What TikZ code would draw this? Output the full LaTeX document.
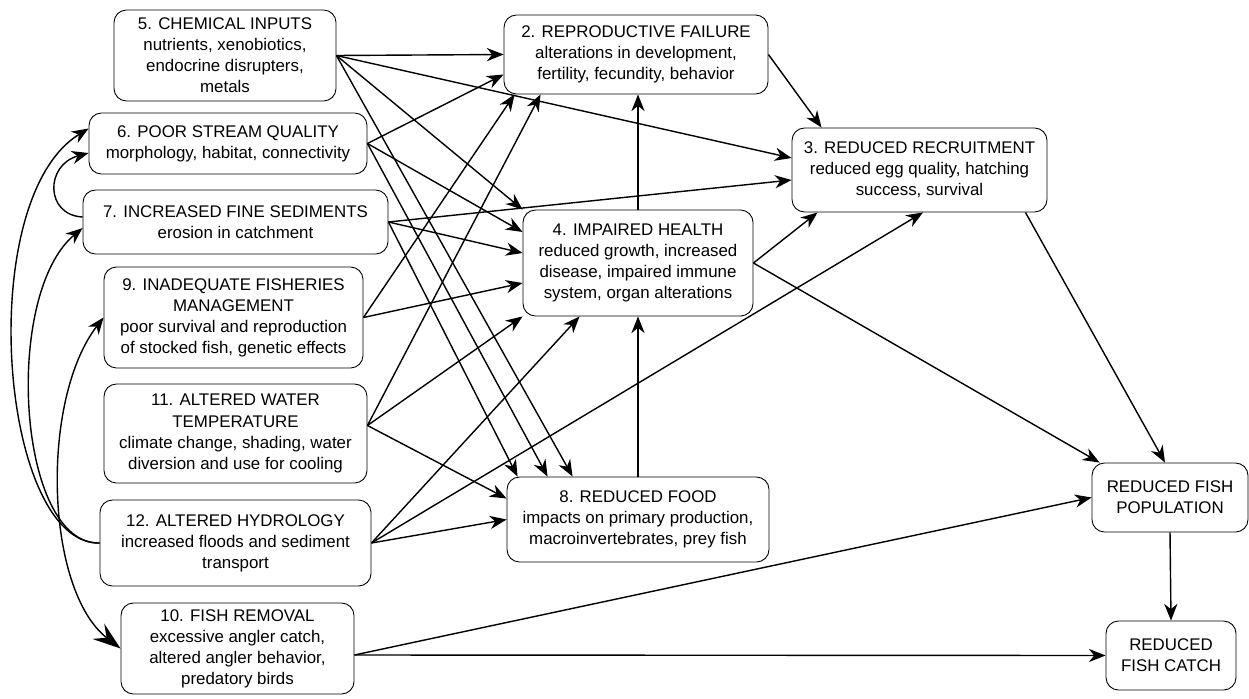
\documentclass[tikz,border=0pt]{standalone}
\usepackage{fontspec}
\setmainfont{Liberation Sans}
\usetikzlibrary{arrows.meta}

\begin{document}
\begin{tikzpicture}[-,>={Stealth[length=9.5pt,width=7.5pt,inset=3pt]},line width=0.8pt]
              \tikzstyle{every node}=[draw,line width=0.5pt,shape=rectangle,rounded corners=0.25cm,align=center,inner sep=0pt,font=\fontsize{9.6}{12}\selectfont];
                \useasboundingbox (0,0) rectangle (24.98,13.96);

                \path (4.50,12.85) node[minimum width=4.44cm,minimum height=1.82cm] (5) {5. CHEMICAL INPUTS\\nutrients, xenobiotics,\\endocrine disrupters,\\metals};
                \path (4.56,11.09) node[minimum width=5.56cm,minimum height=1.22cm] (6) {6. POOR STREAM QUALITY\\morphology, habitat, connectivity};
                \path (4.71,9.52)  node[minimum width=6.10cm,minimum height=1.28cm] (7) {7. INCREASED FINE SEDIMENTS\\erosion in catchment};
                \path (4.67,7.61)  node[minimum width=5.18cm,minimum height=2.02cm] (9) {9. INADEQUATE FISHERIES\\MANAGEMENT\\poor survival and reproduction\\of stocked fish, genetic effects};
                \path (4.71,5.29)  node[minimum width=5.26cm,minimum height=1.98cm] (11) {11. ALTERED WATER\\TEMPERATURE\\climate change, shading, water\\diversion and use for cooling};
                \path (4.71,3.10)  node[minimum width=5.42cm,minimum height=1.72cm] (12) {12. ALTERED HYDROLOGY\\increased floods and sediment\\transport};
                \path (4.75,0.99)  node[minimum width=4.66cm,minimum height=1.82cm] (10) {10. FISH REMOVAL\\excessive angler catch,\\altered angler behavior,\\predatory birds};
                \path (12.72,12.87) node[minimum width=5.28cm,minimum height=1.58cm] (2) {2. REPRODUCTIVE FAILURE\\alterations in development,\\fertility, fecundity, behavior};
                \path (12.76,8.70) node[minimum width=4.60cm,minimum height=2.12cm] (4) {4. IMPAIRED HEALTH\\reduced growth, increased\\disease, impaired immune\\system, organ alterations};
                \path (12.76,3.57) node[minimum width=5.24cm,minimum height=1.70cm] (8) {8. REDUCED FOOD\\impacts on primary production,\\macroinvertebrates, prey fish};
                \path (18.39,10.56) node[minimum width=5.10cm,minimum height=1.68cm] (3) {3. REDUCED RECRUITMENT\\reduced egg quality, hatching\\success, survival};
                \path (23.40,4.01) node[minimum width=3.12cm,minimum height=1.38cm] (pop) {REDUCED FISH\\POPULATION};
                \path (23.42,0.85) node[minimum width=2.60cm,minimum height=1.38cm] (catch) {REDUCED\\FISH CATCH};

                \path[->,draw] (5.east) -- (2.west);
                \path[->,draw] (5.east) -- ([yshift=0.24cm]3.west);
                \path[->,draw] (5.east) -- (4.north west);
                \path[->,draw] (5.east) -- ([xshift=1.32cm]8.north west);
                \path[->,draw] (6.east) -- ([yshift=-0.4cm]2.west);
                \path[->,draw] (6.east) -- ([yshift=0.62cm]4.west);
                \path[->,draw] (6.east) -- ([xshift=0.82cm]8.north west);
                \path[->,draw] (7.east) -- ([yshift=-0.2cm]3.west);
                \path[->,draw] (7.east) -- ([yshift=0.2cm]4.west);
                \path[->,draw] (7.east) -- ([xshift=0.22cm]8.north west);
                \path[->,draw] (9.east) -- ([xshift=0.22cm]2.south west);
                \path[->,draw] (9.east) -- ([yshift=-0.4cm]4.west);
                \path[->,draw] ([yshift=0.16cm]11.east) -- ([xshift=0.74cm]2.south west);
                \path[->,draw] ([yshift=0.16cm]11.east) -- (4.south west);
                \path[->,draw] ([yshift=0.16cm]11.east) -- ([yshift=0.42cm]8.west);
                \path[->,draw] (12.east) -- ([xshift=1.14cm]4.south west);
                \path[->,draw] (12.east) -- ([xshift=0.07cm]3.south);
                \path[->,draw] (12.east) -- (8.west);
                \path[->,draw] (4.north) -- (4.north |- 2.south);
                \path[->,draw] (8.north) -- (4.south);
                \path[->,draw] (2.east) -- ([xshift=0.6cm]3.north west);
                \path[->,draw] (4.east) -- ([xshift=0.52cm]3.south west);
                \path[->,draw] (4.east) -- ([xshift=0.16cm]pop.north west);
                \path[->,draw] ([xshift=-0.44cm]3.south east) -- ([xshift=-0.1cm]pop.north);
                \path[->,draw] ([yshift=-0.13cm]10.east) -- (pop.west);
                \path[->,draw] ([yshift=-0.13cm]10.east) -- (catch.west);
                \path[->,draw] (pop.south) -- (catch.north);

                \path[->,draw] (12.west) .. controls (0,3.06) and (-0.55,9.96) .. ([yshift=0.3cm]6.west);
                \path[->,draw] (12.west) .. controls (0.35,3.06) and (0.05,8.06) .. ([yshift=-0.12cm]7.west);
                \path[->,draw] ([yshift=0.1cm]7.west) .. controls (0.9,9.66) and (0.9,10.66) .. ([yshift=-0.19cm]6.west);
                \path[{Stealth[length=9.5pt,width=7.5pt,inset=3pt]}-{Stealth[length=16pt,width=11pt,inset=6pt]},draw] (9.west) .. controls (0.8,5.96) and (0.9,2.16) .. (10.west);
            \end{tikzpicture}
\end{document}
